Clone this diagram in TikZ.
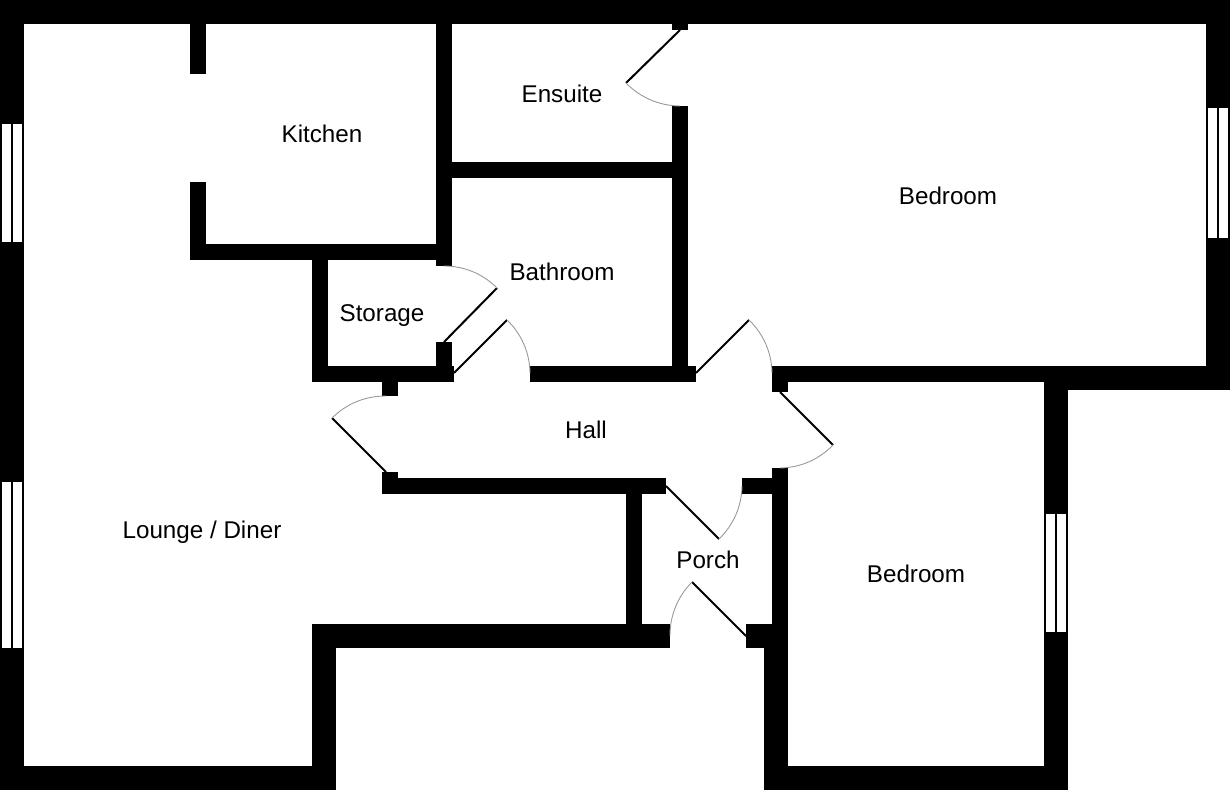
\documentclass[tikz,border=0pt]{standalone}
\usepackage{fontspec}
\setmainfont{Liberation Sans}
\begin{document}
\begin{tikzpicture}[x=1pt,y=-1pt,
  wall/.style={fill=black},
  pane/.style={fill=white},
  leaf/.style={draw=black,line width=2pt},
  swing/.style={draw=black!40,line width=0.9pt,looseness=0.9},
  room/.style={inner sep=0pt,font=\fontsize{24.2}{29}\selectfont}]

\useasboundingbox (0,0) rectangle (1232,792);

% Outer walls

\fill [wall](0,0) rectangle (1230,24);
\fill [wall](0,0) rectangle (24,790);
\fill [wall](0,766) rectangle (336,790);
\fill [wall](312,624) rectangle (336,790);
\fill [wall](312,624) rectangle (670,648);
\fill [wall](1206,0) rectangle (1230,390);
\fill [wall](1044,366) rectangle (1230,390);
\fill [wall](1044,366) rectangle (1068,790);
\fill [wall](764,766) rectangle (1068,790);
\fill [wall](764,648) rectangle (788,790);

% Inner walls

\fill [wall](190,24) rectangle (206,74);
\fill [wall](190,182) rectangle (206,260);
\fill [wall](190,244) rectangle (452,260);
\fill [wall](436,24) rectangle (452,266);
\fill [wall](452,162) rectangle (672,178);
\fill [wall](672,24) rectangle (688,30);
\fill [wall](672,106) rectangle (688,366);
\fill [wall](312,260) rectangle (328,382);
\fill [wall](436,342) rectangle (452,366);
\fill [wall](312,366) rectangle (454,382);
\fill [wall](382,382) rectangle (398,396);
\fill [wall](530,366) rectangle (696,382);
\fill [wall](772,366) rectangle (1044,382);
\fill [wall](772,382) rectangle (788,392);
\fill [wall](382,472) rectangle (398,494);
\fill [wall](382,478) rectangle (666,494);
\fill [wall](626,494) rectangle (642,624);
\fill [wall](742,478) rectangle (772,494);
\fill [wall](772,468) rectangle (788,648);
\fill [wall](746,624) rectangle (772,648);

% Windows

\foreach \xa/\ya/\yb in {2/124/242,2/482/648,1046/514/632,1208/108/238}{
  \fill [pane](\xa,\ya) rectangle (\xa+9,\yb);
  \fill [pane](\xa+11,\ya) rectangle (\xa+20,\yb);
}

% Doors

\draw [leaf](444,342) -- (497,288);
\draw [swing](497,288) to [bend right=22.5] (444,266);
\draw [leaf](454,373) -- (507,320);
\draw [swing](507,320) to [bend left=22.5] (530,373);
\draw [leaf](386,472) -- (332,418);
\draw [swing](332,418) to [bend left=22.5] (386,396);
\draw [leaf](696,373) -- (749,320);
\draw [swing](749,320) to [bend left=22.5] (772,373);
\draw [leaf](780,392) -- (833,445);
\draw [swing](833,445) to [bend left=22.5] (780,468);
\draw [leaf](666,486) -- (719,539);
\draw [swing](719,539) to [bend right=22.5] (742,486);
\draw [leaf](746,636) -- (692,582);
\draw [swing](692,582) to [bend right=22.5] (670,636);
\draw [leaf](680,30) -- (626,83);
\draw [swing](626,83) to [bend right=22.5] (680,106);

% Rooms

\node [room] (kitchen) at (322,134) {Kitchen};
\node [room] (ensuite) at (562,94) {Ensuite};
\node [room] (bedroomtop) at (948,196) {Bedroom};
\node [room] (bathroom) at (562,272) {Bathroom};
\node [room] (storage) at (382,316) {Storage};
\node [room] (hall) at (586,430) {Hall};
\node [room] (lounge) at (202,532) {Lounge / Diner};
\node [room] (porch) at (708,560) {Porch};
\node [room] (bedroomlow) at (916,574) {Bedroom};
\end{tikzpicture}
\end{document}
